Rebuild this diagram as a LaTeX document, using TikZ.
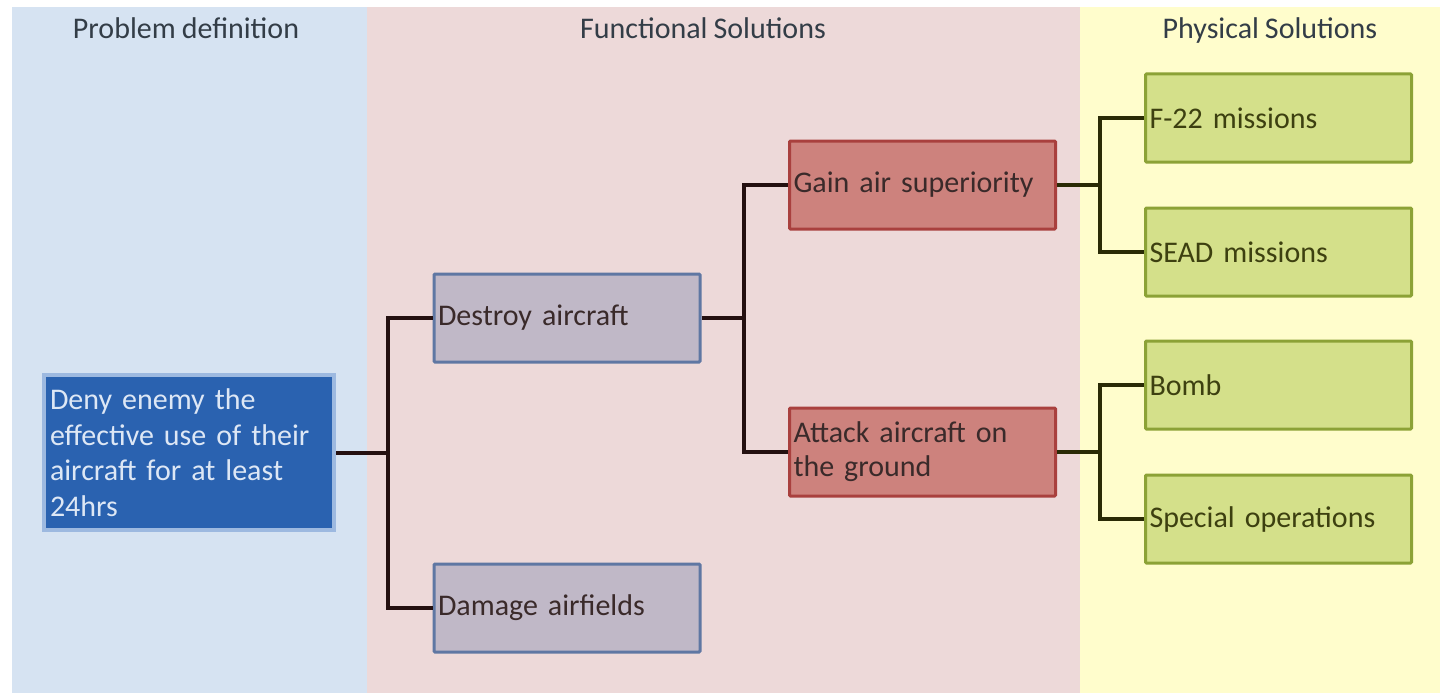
\documentclass[tikz,border=0pt]{standalone}
\usepackage{fontspec}
\setmainfont{Carlito}
\definecolor{bgblue}{HTML}{D6E3F2}
\definecolor{bgpink}{HTML}{EDD9D9}
\definecolor{bgyellow}{HTML}{FFFDCC}
\definecolor{headtxt}{HTML}{333D47}
\definecolor{denyfill}{HTML}{2A62B0}
\definecolor{denyline}{HTML}{9DB9E0}
\definecolor{denytxt}{HTML}{DDE7F5}
\definecolor{greyfill}{HTML}{C0B8C7}
\definecolor{greyline}{HTML}{5F77A3}
\definecolor{redfill}{HTML}{CD827D}
\definecolor{redline}{HTML}{A9403E}
\definecolor{greenfill}{HTML}{D4E08A}
\definecolor{greenline}{HTML}{8CA236}
\definecolor{darktxt}{HTML}{3A2A2A}
\definecolor{olivetxt}{HTML}{3D4010}
\definecolor{connred}{HTML}{241010}
\definecolor{connolive}{HTML}{2A2A05}
% label font with slightly tighter word spacing
\newcommand{\labelfont}[1]{\fontsize{30}{#1}\selectfont\spaceskip=6pt plus 2pt minus 1pt\relax}
\tikzset{
  head/.style={font=\labelfont{34}, text=headtxt, anchor=base},
  box/.style={rectangle, line width=3pt, minimum width=266pt, minimum height=88pt,
    text width=258pt, align=left, inner xsep=4pt, inner ysep=0pt,
    font=\labelfont{34}, rounded corners=1pt},
  greybox/.style={box, fill=greyfill, draw=greyline, text=darktxt},
  redbox/.style={box, fill=redfill, draw=redline, text=darktxt},
  greenbox/.style={box, fill=greenfill, draw=greenline, text=olivetxt},
  conn/.style={line width=4pt, draw=connred, line join=miter},
  connG/.style={line width=4pt, draw=connolive, line join=miter},
}
\begin{document}
\begin{tikzpicture}[x=1pt, y=-1pt]
  \useasboundingbox (0,0) rectangle (1446,693);
  % column backgrounds
  \fill[bgblue]   (12,7)   rectangle (367,693);
  \fill[bgpink]   (367,7)  rectangle (1080,693);
  \fill[bgyellow] (1080,7) rectangle (1440,693);
  % column headings
  \node[head] (h1) at (186,39) {Problem definition};
  \node[head] (h2) at (703,39) {Functional Solutions};
  \node[head] (h3) at (1270,39) {Physical Solutions};
  % problem statement
  \node[rectangle, fill=denyfill, draw=denyline, line width=4pt,
        minimum width=290pt, minimum height=155pt, text width=278pt,
        inner xsep=6pt, inner ysep=0pt, align=left, text=denytxt,
        font=\labelfont{35.5}] (deny) at (189,452.5)
        {Deny enemy the\\effective use of their\\aircraft for at least\\24hrs};
  % functional solutions
  \node[greybox] (destroy) at (567,318) {Destroy aircraft};
  \node[greybox] (damage)  at (567,608) {Damage airfields};
  \node[redbox]  (gain)    at (922.5,185) {Gain air superiority};
  \node[redbox]  (attack)  at (922.5,452) {Attack aircraft on\\the ground};
  % physical solutions
  \node[greenbox] (f22)     at (1278.5,118) {F-22 missions};
  \node[greenbox] (sead)    at (1278.5,252) {SEAD missions};
  \node[greenbox] (bomb)    at (1278.5,385) {Bomb};
  \node[greenbox] (special) at (1278.5,519) {Special operations};
  % branch points
  \coordinate (j1) at (388,0);
  \coordinate (j2) at (744,0);
  \coordinate (j3) at (1100,0);
  % connectors
  \draw[conn] (deny.east) -- (j1 |- deny.east) |- (destroy.west);
  \draw[conn] (j1 |- deny.east) |- (damage.west);
  \draw[conn] (destroy.east) -- (j2 |- destroy.east) |- (gain.west);
  \draw[conn] (j2 |- destroy.east) |- (attack.west);
  \draw[connG] (gain.east) -- (j3 |- gain.east) |- (f22.west);
  \draw[connG] (j3 |- gain.east) |- (sead.west);
  \draw[connG] (attack.east) -- (j3 |- attack.east) |- (bomb.west);
  \draw[connG] (j3 |- attack.east) |- (special.west);
\end{tikzpicture}
\end{document}
